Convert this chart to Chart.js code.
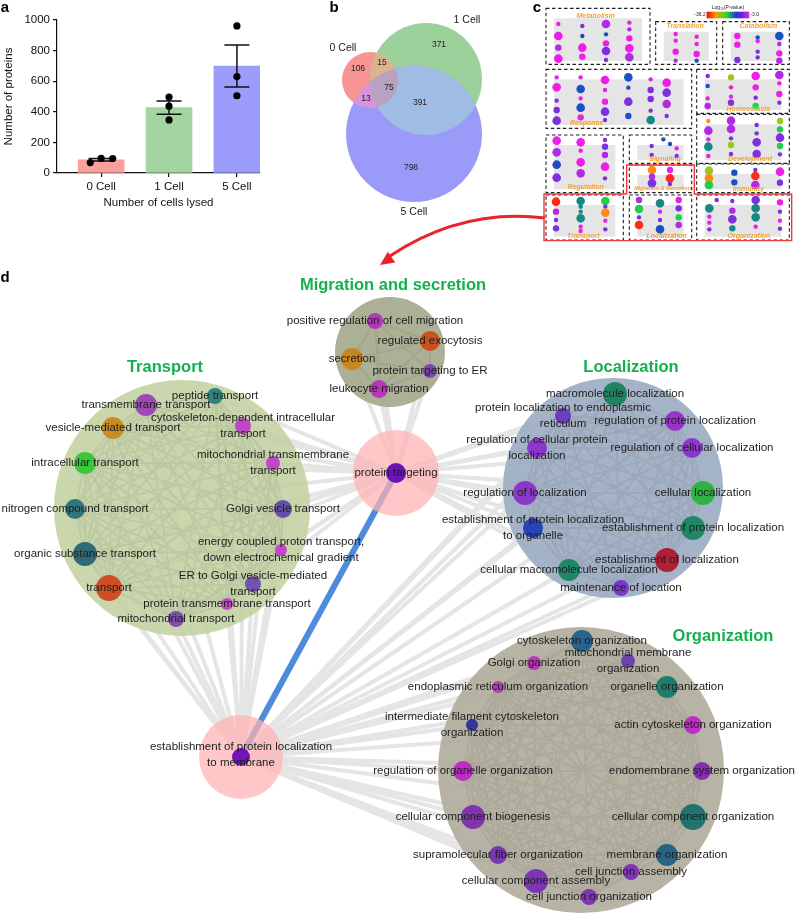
<!DOCTYPE html>
<html>
<head>
<meta charset="utf-8">
<script src="https://cdn.jsdelivr.net/npm/chart.js@4.4.1/dist/chart.umd.min.js"></script>
<style>
  body { margin: 0; background: #fff; }
  #wrap { position: relative; width: 795px; height: 914px; overflow: hidden; }
  canvas { position: absolute; }
  #netCanvas { left: 0; top: 0; }
  #barCanvas { left: 0; top: 0; }
  #thumbCanvas { left: 530px; top: 0; }
</style>
</head>
<body>
<div id="wrap">
  <canvas id="netCanvas" width="795" height="914"></canvas>
  <canvas id="barCanvas" width="268" height="212"></canvas>
  <canvas id="thumbCanvas" width="265" height="280"></canvas>
</div>
<script>
// --- panel a: proteins per lysate ---
const cellGroups = ['0 Cell', '1 Cell', '5 Cell'];
const proteinMeans = [86, 427, 699];
const proteinSem = [8, 43, 137];
const replicateCounts = [[68, 96, 94], [496, 437, 347], [961, 630, 505]];
const replicateJitter = [[-0.16, 0, 0.17], [0, 0, 0], [0, 0, 0]];
const barColors = ['#f9a09c', '#a2d5a0', '#9c9cfa'];
const yTicks = [0, 200, 400, 600, 800, 1000];

// --- panel b: venn ---
const vennSets = ['0 Cell', '1 Cell', '5 Cell'];
const vennX = [370, 426, 414];
const vennY = [80, 79, 134];
const vennR = [28, 56, 68];
const vennOnlyColors = ['#f79595', '#9dd19b', '#9a9af9'];
const vennCounts = ['106', '15', '75', '13', '371', '391', '798'];
const vennCountX = [358, 382, 389, 366, 439, 420, 411];
const vennCountY = [69, 63, 88, 99, 45, 103, 168];

// --- panel c: module overview (thumbnail units) ---
const moduleNames = ['Metabolism', 'Translation', 'Catabolism', 'Response', 'Homeostasis', 'Development',
  'Regulation', 'Signaling', 'Migration & Secretion', 'Immunity', 'Transport', 'Localization', 'Organization'];
const moduleLeft = [48, 377, 578, 48, 500, 500, 48, 298, 298, 500, 48, 298, 500];
const moduleRight = [360, 560, 778, 485, 778, 778, 280, 485, 485, 778, 280, 485, 778];
const moduleTop = [25, 65, 65, 208, 208, 343, 405, 405, 495, 492, 585, 585, 585];
const moduleBottom = [193, 193, 193, 385, 340, 490, 578, 490, 578, 578, 720, 720, 720];
const moduleLabelX = [197, 465, 685, 170, 655, 660, 167, 405, 398, 655, 160, 410, 657];
const moduleLabelY = [47, 78, 78, 370, 328, 478, 560, 478, 566, 568, 707, 707, 707];
const dotRadius = [2.2, 3.2, 4.3];
const dotTones = { m: '#ee1ee8', v: '#b12ae6', p: '#7e30e0', b: '#1b50c4', t: '#168888', g: '#1fcf4a', y: '#9ac81e', o: '#ff8c12', r: '#ff2a1a' };
const thumbDots = [
  [85,72,1,'m'],[85,108,3,'m'],[85,143,2,'v'],[85,176,3,'m'],
  [157,78,1,'p'],[157,108,1,'b'],[157,143,3,'m'],[157,170,2,'m'],
  [228,72,3,'v'],[228,103,1,'b'],[228,130,2,'m'],[228,153,3,'p'],[228,180,1,'p'],
  [298,68,1,'m'],[298,88,1,'v'],[298,115,2,'m'],[298,145,3,'m'],[298,172,3,'v'],
  [437,102,1,'m'],[437,122,1,'m'],[437,155,2,'m'],[437,182,1,'v'],
  [500,110,1,'m'],[500,132,1,'m'],[500,162,2,'m'],[500,182,1,'b'],
  [622,108,2,'m'],[622,134,2,'m'],[622,180,2,'p'],
  [683,112,1,'b'],[683,123,1,'m'],[683,155,1,'p'],[683,172,1,'p'],
  [748,108,3,'b'],[748,132,1,'v'],[748,160,2,'m'],[748,182,2,'v'],
  [80,232,1,'m'],[80,262,3,'m'],[80,302,1,'p'],[80,330,2,'p'],[80,362,3,'p'],
  [152,232,1,'m'],[152,267,3,'b'],[152,295,1,'m'],[152,323,3,'b'],[152,352,2,'m'],
  [225,240,3,'m'],[225,270,1,'m'],[225,305,2,'m'],[225,335,3,'p'],[225,360,1,'p'],
  [295,232,3,'b'],[295,263,1,'b'],[295,305,3,'p'],[295,348,2,'b'],
  [362,238,1,'m'],[362,270,2,'p'],[362,297,2,'p'],[362,332,1,'p'],[362,360,3,'t'],
  [410,248,3,'m'],[410,278,3,'p'],[410,312,3,'v'],[410,348,1,'p'],
  [533,228,1,'p'],[533,258,1,'b'],[533,295,1,'m'],[533,318,2,'v'],
  [603,232,2,'y'],[603,262,1,'m'],[603,290,1,'m'],[603,308,2,'p'],
  [677,228,3,'m'],[677,262,2,'m'],[677,293,1,'p'],[677,318,2,'g'],
  [748,225,3,'v'],[748,250,1,'m'],[748,282,2,'m'],[748,308,1,'p'],
  [535,363,1,'o'],[535,392,3,'v'],[535,418,1,'m'],[535,440,3,'t'],[535,468,1,'m'],
  [603,362,3,'v'],[603,387,3,'v'],[603,415,1,'p'],[603,435,2,'y'],[603,462,1,'p'],
  [680,375,1,'p'],[680,400,1,'p'],[680,427,3,'p'],[680,462,3,'p'],
  [750,363,2,'y'],[750,388,2,'g'],[750,413,3,'p'],[750,438,2,'g'],[750,463,1,'p'],
  [80,422,3,'m'],[80,457,3,'v'],[80,494,3,'b'],[80,533,3,'p'],
  [152,427,3,'m'],[152,452,1,'m'],[152,487,3,'m'],[152,520,3,'v'],
  [225,420,1,'p'],[225,440,2,'p'],[225,465,2,'v'],[225,500,3,'m'],[225,535,1,'p'],
  [365,438,1,'p'],[365,465,1,'p'],[400,418,1,'b'],[420,432,1,'b'],[440,445,1,'m'],[440,468,1,'p'],
  [366,510,3,'o'],[366,530,2,'v'],[366,550,3,'p'],[420,510,2,'m'],[420,535,3,'r'],[420,552,1,'p'],
  [537,512,3,'y'],[537,535,3,'o'],[537,555,3,'g'],[613,518,2,'b'],[613,547,2,'b'],
  [676,510,1,'p'],[676,528,3,'r'],[676,555,3,'v'],[750,515,3,'m'],[750,548,2,'p'],
  [78,605,3,'r'],[78,635,2,'v'],[78,660,1,'p'],[78,685,2,'p'],
  [152,603,3,'t'],[152,620,1,'t'],[152,635,1,'t'],[152,655,3,'t'],[152,680,1,'m'],[152,693,1,'m'],
  [226,603,3,'g'],[226,620,1,'p'],[226,638,3,'o'],[226,662,1,'m'],[226,688,1,'p'],
  [327,600,2,'v'],[327,627,3,'g'],[327,652,1,'p'],[327,675,3,'r'],
  [390,610,3,'t'],[390,635,1,'m'],[390,660,1,'p'],[390,688,3,'b'],
  [446,600,2,'m'],[446,625,2,'p'],[446,652,2,'g'],[446,675,2,'v'],
  [560,600,1,'p'],[538,625,3,'t'],[538,650,1,'m'],[538,668,1,'m'],[538,688,1,'p'],
  [607,603,1,'p'],[607,632,2,'v'],[607,658,3,'p'],[607,685,2,'t'],
  [677,600,3,'p'],[677,625,3,'t'],[677,652,3,'t'],[677,680,1,'m'],
  [750,607,2,'m'],[750,635,1,'p'],[750,662,1,'m'],[750,686,1,'p']
];

// --- panel d: GO term network ---
const clusterNames = ['Migration and secretion', 'Transport', 'Localization', 'Organization'];
const clusterX = [390, 182, 613, 581];
const clusterY = [352, 508, 488, 770];
const clusterR = [55, 128, 110, 143];
const clusterColors = ['rgba(163,167,136,0.9)', 'rgba(195,210,162,0.88)', 'rgba(155,171,194,0.9)', 'rgba(176,172,155,0.9)'];
const clusterTitleX = [393, 165, 631, 723];
const clusterTitleY = [285, 367, 367, 636];

const termLabels = [
  'positive regulation of cell migration', 'regulated exocytosis', 'secretion', 'protein targeting to ER', 'leukocyte migration',
  'peptide transport', 'transmembrane transport', 'vesicle-mediated transport', 'cytoskeleton-dependent intracellular\ntransport',
  'intracellular transport', 'mitochondrial transmembrane\ntransport', 'nitrogen compound transport', 'Golgi vesicle transport',
  'organic substance transport', 'energy coupled proton transport,\ndown electrochemical gradient', 'transport',
  'ER to Golgi vesicle-mediated\ntransport', 'protein transmembrane transport', 'mitochondrial transport',
  'macromolecule localization', 'protein localization to endoplasmic\nreticulum', 'regulation of protein localization',
  'regulation of cellular protein\nlocalization', 'regulation of cellular localization', 'regulation of localization',
  'cellular localization', 'establishment of protein localization\nto organelle', 'establishment of protein localization',
  'establishment of localization', 'cellular macromolecule localization', 'maintenance of location',
  'cytoskeleton organization', 'mitochondrial membrane\norganization', 'Golgi organization', 'endoplasmic reticulum organization',
  'organelle organization', 'intermediate filament cytoskeleton\norganization', 'actin cytoskeleton organization',
  'regulation of organelle organization', 'endomembrane system organization', 'cellular component biogenesis',
  'cellular component organization', 'supramolecular fiber organization', 'membrane organization', 'cell junction assembly',
  'cellular component assembly', 'cell junction organization'
];
const termGroup = [0,0,0,0,0, 1,1,1,1,1,1,1,1,1,1,1,1,1,1, 2,2,2,2,2,2,2,2,2,2,2,2, 3,3,3,3,3,3,3,3,3,3,3,3,3,3,3,3];
const termX = [375, 430, 352, 430, 379,
  215, 146, 113, 243, 85, 273, 75, 283, 85, 281, 109, 253, 227, 176,
  615, 563, 675, 537, 692, 525, 703, 533, 693, 667, 569, 621,
  582, 628, 534, 498, 667, 472, 693, 463, 702, 473, 693, 498, 667, 631, 536, 589];
const termY = [321, 341, 359, 371, 389,
  396, 405, 428, 426, 463, 463, 509, 509, 554, 550, 588, 584, 604, 619,
  394, 416, 421, 448, 448, 493, 493, 528, 528, 560, 570, 588,
  641, 661, 663, 687, 687, 725, 725, 771, 771, 817, 817, 855, 855, 872, 881, 897];
const termSize = [8, 10, 11, 7, 9,
  8, 11, 11, 8, 11, 7, 10, 9, 12, 6, 13, 8, 6, 8,
  12, 8, 10, 10, 10, 12, 12, 10, 12, 12, 11, 8,
  11, 7, 7, 6, 11, 6, 9, 10, 9, 12, 13, 9, 11, 8, 12, 8];
const termColor = ['#b52fc0', '#cf4a14', '#c98416', '#7a3fb5', '#b92fc2',
  '#23807a', '#9b3fb5', '#c9861a', '#c03ccc', '#2fc72f', '#c23ccc', '#236f7a', '#5f46a8', '#236474', '#c43ccc', '#d0451a', '#6e49b0', '#c43ccc', '#7a43ae',
  '#17835a', '#6a36c0', '#9a2ad0', '#8a2fd0', '#8a30cc', '#8a2fcc', '#24b43a', '#1f3cb8', '#148560', '#b0162a', '#148560', '#7a2fcc',
  '#1f5e8a', '#6a3cb0', '#c02cc0', '#b535c0', '#157a6a', '#2a2d9a', '#c224cc', '#c022c8', '#7e27b4', '#7e2bb0', '#16706c', '#742fb0', '#1d5f86', '#7d2bb8', '#7a2db5', '#7a2db5'];

const hubLabels = ['protein targeting', 'establishment of protein localization\nto membrane'];
const hubX = [396, 241];
const hubY = [473, 757];
const hubHalo = [43, 42];
const hubSize = [10, 9];
const hubColor = ['#6c12b8', '#7016b6'];
const hubGroups = [[0, 1, 2], [1, 2, 3]];

Chart.defaults.font.family = '"Liberation Sans", Arial, Helvetica, sans-serif';
Chart.defaults.color = '#1a1a1a';
Chart.defaults.plugins.legend.display = false;
Chart.defaults.plugins.tooltip.enabled = false;

const FONT = '"Liberation Sans", Arial, sans-serif';

// --- edges ---
const hubEdges = [];
hubGroups.forEach((groups, h) => {
  termLabels.forEach((t, i) => {
    if (!groups.includes(termGroup[i])) return;
    hubEdges.push({ x: hubX[h], y: hubY[h] }, { x: termX[i], y: termY[i] }, { x: null, y: null });
  });
});
const innerEdges = [];
termLabels.forEach((a, i) => {
  termLabels.forEach((b, j) => {
    if (j <= i || termGroup[i] !== termGroup[j]) return;
    innerEdges.push({ x: termX[i], y: termY[i] }, { x: termX[j], y: termY[j] }, { x: null, y: null });
  });
});

function drawLines(ctx, text, cx, cy, step) {
  const lines = text.split('\n');
  lines.forEach((ln, k) => ctx.fillText(ln, cx, cy + (k - (lines.length - 1) / 2) * step));
}

// venn overlaps painted over the three discs
const vennPlugin = {
  id: 'vennOverlap',
  afterDatasetDraw(chart, args) {
    if (chart.data.datasets[args.index].id !== 'venn') return;
    const ctx = chart.ctx;
    const els = args.meta.data;
    const disc = i => { ctx.beginPath(); ctx.arc(els[i].x, els[i].y, els[i].options.radius, 0, Math.PI * 2); };
    [[0, 1, '#d9b48d'], [0, 2, '#d993dd'], [1, 2, '#9fbde3']].forEach(([a, b, c]) => {
      ctx.save(); disc(a); ctx.clip(); disc(b); ctx.fillStyle = c; ctx.fill(); ctx.restore();
    });
    ctx.save(); disc(0); ctx.clip(); disc(1); ctx.clip(); disc(2); ctx.fillStyle = '#b8a2bf'; ctx.fill(); ctx.restore();
  }
};

const netLabelPlugin = {
  id: 'netLabels',
  afterDatasetsDraw(chart) {
    const { ctx, scales: { x, y } } = chart;
    ctx.save();
    ctx.textAlign = 'center';
    ctx.textBaseline = 'middle';

    // venn text
    ctx.fillStyle = '#222';
    ctx.font = '8.5px ' + FONT;
    vennCounts.forEach((c, i) => ctx.fillText(c, x.getPixelForValue(vennCountX[i]), y.getPixelForValue(vennCountY[i])));
    ctx.font = '10.5px ' + FONT;
    ctx.fillText(vennSets[0], 343, 48);
    ctx.fillText(vennSets[1], 467, 20);
    ctx.fillText(vennSets[2], 414, 212);

    // node labels
    ctx.font = '11.5px ' + FONT;
    ctx.fillStyle = '#1e1e1e';
    termLabels.forEach((t, i) => drawLines(ctx, t, x.getPixelForValue(termX[i]), y.getPixelForValue(termY[i]), 16));
    hubLabels.forEach((t, i) => drawLines(ctx, t, x.getPixelForValue(hubX[i]), y.getPixelForValue(hubY[i]) - (i === 1 ? 2 : 0), 16));

    // cluster titles
    ctx.font = 'bold 16.5px ' + FONT;
    ctx.fillStyle = '#12b04e';
    clusterNames.forEach((n, i) => ctx.fillText(n, x.getPixelForValue(clusterTitleX[i]), y.getPixelForValue(clusterTitleY[i])));

    // panel letters
    ctx.fillStyle = '#000';
    ctx.font = 'bold 15px ' + FONT;
    ctx.fillText('a', 5, 8);
    ctx.fillText('b', 334, 8);
    ctx.fillText('c', 537, 8);
    ctx.fillText('d', 5, 278);

    // red arrow from the highlighted modules to panel d
    ctx.strokeStyle = '#e8232a';
    ctx.fillStyle = '#e8232a';
    ctx.lineWidth = 3;
    ctx.beginPath();
    ctx.moveTo(545, 218);
    ctx.quadraticCurveTo(462, 208, 390, 256);
    ctx.stroke();
    const ang = Math.atan2(262 - 208, 383 - 462);
    const tipX = 380, tipY = 265;
    ctx.beginPath();
    ctx.moveTo(tipX, tipY);
    ctx.lineTo(tipX - 14 * Math.cos(ang) + 6.5 * Math.sin(ang), tipY - 14 * Math.sin(ang) - 6.5 * Math.cos(ang));
    ctx.lineTo(tipX - 14 * Math.cos(ang) - 6.5 * Math.sin(ang), tipY - 14 * Math.sin(ang) + 6.5 * Math.cos(ang));
    ctx.closePath();
    ctx.fill();
    ctx.restore();
  }
};

new Chart(document.getElementById('netCanvas'), {
  type: 'bubble',
  data: {
    datasets: [
      { id: 'venn', data: vennSets.map((s, i) => ({ x: vennX[i], y: vennY[i], r: vennR[i] })),
        backgroundColor: vennOnlyColors, borderWidth: 0, order: 9, clip: false },
      { type: 'scatter', showLine: true, data: hubEdges, borderColor: 'rgba(222,222,222,0.8)', borderWidth: 4,
        pointRadius: 0, order: 8, clip: false },
      { data: clusterNames.map((n, i) => ({ x: clusterX[i], y: clusterY[i], r: clusterR[i] })),
        backgroundColor: clusterColors, borderWidth: 0, order: 7, clip: false },
      { type: 'scatter', showLine: true, data: innerEdges, borderColor: 'rgba(70,70,55,0.09)', borderWidth: 2,
        pointRadius: 0, order: 6, clip: false },
      { type: 'scatter', showLine: true, data: hubX.map((v, i) => ({ x: v, y: hubY[i] })), borderColor: '#4d8cdb',
        borderWidth: 6, pointRadius: 0, order: 5, clip: false },
      { data: hubX.map((v, i) => ({ x: v, y: hubY[i], r: hubHalo[i] })), backgroundColor: 'rgba(255,178,178,0.72)',
        borderWidth: 0, order: 4, clip: false },
      { data: hubX.map((v, i) => ({ x: v, y: hubY[i], r: hubSize[i] })), backgroundColor: hubColor,
        borderWidth: 0, order: 2, clip: false },
      { data: termLabels.map((t, i) => ({ x: termX[i], y: termY[i], r: termSize[i] })),
        backgroundColor: termColor.map(c => c + 'ee'), borderWidth: 0, order: 1, clip: false }
    ]
  },
  options: {
    responsive: false,
    animation: false,
    devicePixelRatio: 1,
    events: [],
    layout: { autoPadding: false, padding: 0 },
    scales: {
      x: { type: 'linear', min: 0, max: 795, display: false },
      y: { type: 'linear', min: 0, max: 914, reverse: true, display: false }
    }
  },
  plugins: [vennPlugin, netLabelPlugin]
});

// --- panel a chart ---
const errorBarPlugin = {
  id: 'errorBars',
  afterDatasetDraw(chart, args) {
    if (args.index !== 0) return;
    const { ctx, scales: { x, y } } = chart;
    ctx.save();
    ctx.strokeStyle = '#111';
    ctx.lineWidth = 1.5;
    proteinMeans.forEach((m, i) => {
      const px = x.getPixelForValue(i);
      const top = y.getPixelForValue(m + proteinSem[i]);
      const bot = y.getPixelForValue(m - proteinSem[i]);
      ctx.beginPath();
      ctx.moveTo(px, top); ctx.lineTo(px, bot);
      ctx.moveTo(px - 12.5, top); ctx.lineTo(px + 12.5, top);
      ctx.moveTo(px - 12.5, bot); ctx.lineTo(px + 12.5, bot);
      ctx.stroke();
    });
    ctx.restore();
  }
};

new Chart(document.getElementById('barCanvas'), {
  type: 'bar',
  data: {
    datasets: [
      { data: proteinMeans.map((v, i) => ({ x: i, y: v })), backgroundColor: barColors, barThickness: 46, order: 1 },
      { type: 'scatter', data: replicateCounts.flatMap((reps, i) => reps.map((v, k) => ({ x: i + replicateJitter[i][k], y: v }))),
        pointRadius: 3.6, pointBackgroundColor: '#000', pointBorderWidth: 0, order: -1, clip: false }
    ]
  },
  options: {
    responsive: false,
    animation: false,
    devicePixelRatio: 1,
    events: [],
    layout: { autoPadding: false, padding: { top: 20, right: 8, left: 0, bottom: 0 } },
    scales: {
      x: {
        type: 'linear', min: -0.65, max: 2.34, offset: false,
        afterBuildTicks: s => { s.ticks = cellGroups.map((g, i) => ({ value: i })); },
        afterFit: s => { s.height = 39; },
        ticks: { callback: v => cellGroups[v], color: '#111', font: { size: 11.5 }, padding: 3, autoSkip: false, maxRotation: 0 },
        grid: { offset: false, drawOnChartArea: false, drawTicks: true, tickLength: 4, color: '#111', lineWidth: 1.2 },
        border: { color: '#111', width: 1.2 },
        title: { display: true, text: 'Number of cells lysed', color: '#111', font: { size: 11.5 }, padding: { top: 0, bottom: 2 } }
      },
      y: {
        min: 0, max: 1000,
        afterBuildTicks: s => { s.ticks = yTicks.map(v => ({ value: v })); },
        afterFit: s => { s.width = 57; },
        ticks: { callback: v => String(v), color: '#111', font: { size: 11.5 }, padding: 3 },
        grid: { drawOnChartArea: false, drawTicks: true, tickLength: 4, color: '#111', lineWidth: 1.2 },
        border: { color: '#111', width: 1.2 },
        title: { display: true, text: 'Number of proteins', color: '#111', font: { size: 11.5 }, padding: { top: 2, bottom: 2 } }
      }
    }
  },
  plugins: [errorBarPlugin]
});

// --- panel c chart ---
const thumbPlugin = {
  id: 'thumbModules',
  beforeDatasetsDraw(chart) {
    const { ctx, scales: { x, y } } = chart;
    ctx.save();
    ctx.fillStyle = 'rgba(224,224,224,0.85)';
    moduleNames.forEach((n, i) => {
      const l = x.getPixelForValue(moduleLeft[i] + 24), r = x.getPixelForValue(moduleRight[i] - 24);
      const t = y.getPixelForValue(moduleTop[i] + 30), b = y.getPixelForValue(moduleBottom[i] - 10);
      ctx.fillRect(l, t, r - l, b - t);
    });
    ctx.restore();
  },
  afterDatasetsDraw(chart) {
    const { ctx, scales: { x, y } } = chart;
    ctx.save();
    ctx.strokeStyle = '#222';
    ctx.lineWidth = 1.1;
    ctx.setLineDash([3.5, 2.5]);
    moduleNames.forEach((n, i) => {
      const l = x.getPixelForValue(moduleLeft[i]), r = x.getPixelForValue(moduleRight[i]);
      const t = y.getPixelForValue(moduleTop[i]), b = y.getPixelForValue(moduleBottom[i]);
      ctx.strokeRect(l, t, r - l, b - t);
    });
    ctx.setLineDash([]);

    ctx.textAlign = 'center';
    ctx.textBaseline = 'middle';
    ctx.fillStyle = '#f5a035';
    moduleNames.forEach((n, i) => {
      ctx.font = 'italic bold ' + (n.length > 14 ? 5.5 : 7) + 'px ' + FONT;
      ctx.fillText(n, x.getPixelForValue(moduleLabelX[i]), y.getPixelForValue(moduleLabelY[i]));
    });

    // highlighted modules
    ctx.strokeStyle = '#ea3a40';
    ctx.lineWidth = 1.4;
    ctx.beginPath();
    [[42, 582], [290, 582], [290, 495], [493, 495], [493, 582], [785, 582], [785, 722], [42, 722]].forEach(([px, py], k) => {
      const X = x.getPixelForValue(px), Y = y.getPixelForValue(py);
      if (k === 0) ctx.moveTo(X, Y); else ctx.lineTo(X, Y);
    });
    ctx.closePath();
    ctx.stroke();

    // colour key
    const gl = x.getPixelForValue(530), gr = x.getPixelForValue(658);
    const gt = y.getPixelForValue(35), gb = y.getPixelForValue(55);
    const grad = ctx.createLinearGradient(gl, 0, gr, 0);
    grad.addColorStop(0, '#ff0000');
    grad.addColorStop(0.22, '#ff9900');
    grad.addColorStop(0.45, '#33dd22');
    grad.addColorStop(0.7, '#2233dd');
    grad.addColorStop(0.85, '#7a22e0');
    grad.addColorStop(1, '#ee22ee');
    ctx.fillStyle = grad;
    ctx.fillRect(gl, gt, gr - gl, gb - gt);
    ctx.fillStyle = '#222';
    ctx.font = '5px ' + FONT;
    ctx.fillText('Log\u2081\u2080(P-value)', x.getPixelForValue(594), y.getPixelForValue(22));
    ctx.textAlign = 'right';
    ctx.fillText('-36.2', gl - 1, (gt + gb) / 2);
    ctx.textAlign = 'left';
    ctx.fillText('-3.0', gr + 1, (gt + gb) / 2);
    ctx.restore();
  }
};

new Chart(document.getElementById('thumbCanvas'), {
  type: 'bubble',
  data: {
    datasets: [{
      data: thumbDots.map(d => ({ x: d[0], y: d[1], r: dotRadius[d[2] - 1] })),
      backgroundColor: thumbDots.map(d => dotTones[d[3]]),
      borderWidth: 0,
      clip: false
    }]
  },
  options: {
    responsive: false,
    animation: false,
    devicePixelRatio: 1,
    events: [],
    layout: { autoPadding: false, padding: 0 },
    scales: {
      x: { type: 'linear', min: 0, max: 795, display: false },
      y: { type: 'linear', min: 0, max: 840, reverse: true, display: false }
    }
  },
  plugins: [thumbPlugin]
});
</script>
</body>
</html>
